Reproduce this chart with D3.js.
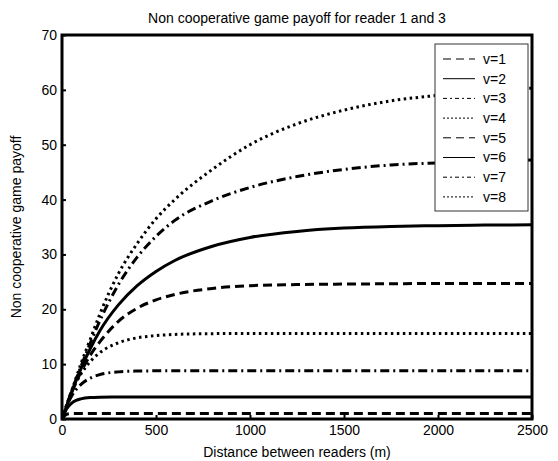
<!DOCTYPE html>
<html>
<head>
<meta charset="utf-8">
<script src="https://cdn.jsdelivr.net/npm/d3@7"></script>
<style>
body { margin: 0; background: #fff; }
text { font-family: "Liberation Sans", Arial, sans-serif; fill: #000; }
</style>
</head>
<body>
<svg id="chart" width="558" height="461"></svg>
<script>
// distances (m) where the curves were read
var distances = [0, 25, 50, 75, 100, 150, 200, 300, 400, 500, 600, 800, 1000, 1250, 1500, 1750, 2000, 2250, 2500];

var v1 = [0, 0.88, 0.98, 1, 1, 1, 1, 1, 1, 1, 1, 1, 1, 1, 1, 1, 1, 1, 1];
var v2 = [0, 1.86, 2.85, 3.39, 3.67, 3.91, 3.97, 4, 4, 4, 4, 4, 4, 4, 4, 4, 4, 4, 4];
var v3 = [0, 2.36, 4.09, 5.35, 6.27, 7.45, 8.08, 8.59, 8.74, 8.78, 8.8, 8.8, 8.8, 8.8, 8.8, 8.8, 8.8, 8.8, 8.8];
var v4 = [0, 2.64, 4.82, 6.65, 8.16, 10.47, 12.06, 13.9, 14.8, 15.2, 15.42, 15.56, 15.6, 15.6, 15.6, 15.6, 15.6, 15.6, 15.6];
var v5 = [0, 2.4, 4.7, 6.7, 8.5, 11.6, 14.0, 17.8, 20.2, 21.7, 22.7, 23.8, 24.3, 24.5, 24.6, 24.65, 24.7, 24.7, 24.7];
var v6 = [0, 2.4, 4.8, 7.0, 9.1, 12.8, 16.0, 20.8, 24.3, 26.9, 28.9, 31.5, 33.1, 34.2, 34.8, 35.1, 35.25, 35.35, 35.4];
var v7 = [0, 2.5, 5.0, 7.3, 9.5, 13.8, 17.8, 24.5, 29.5, 33.3, 36.2, 39.8, 42.2, 44.2, 45.5, 46.3, 46.7, 47.0, 47.2];
var v8 = [0, 2.5, 5.0, 7.5, 10.0, 14.5, 19.0, 26.5, 32.0, 36.5, 40.0, 45.5, 50.0, 53.8, 56.3, 58.0, 59.0, 59.8, 60.3];

var seriesNames = ["v=1", "v=2", "v=3", "v=4", "v=5", "v=6", "v=7", "v=8"];
var seriesValues = [v1, v2, v3, v4, v5, v6, v7, v8];

var xTicks = [0, 500, 1000, 1500, 2000, 2500];
var yTicks = [0, 10, 20, 30, 40, 50, 60, 70];

// matlab style line types: --, -, -., :
var dashStyles = ["9,5", null, "9,4,2,4", "2.5,3.5", "9,5", null, "9,4,2,4", "2.5,3.5"];
var legendDash = ["8,5", null, "4,3,2,3", "2,2", "8,5", null, "4,3,2,3", "2,2"];

var plotL = 62, plotR = 532, plotT = 35, plotB = 419;

var svg = d3.select("#chart");

var x = d3.scaleLinear().domain([0, 2500]).range([plotL, plotR]);
var y = d3.scaleLinear().domain([0, 70]).range([plotB, plotT]);

// curves
var line = d3.line()
    .x(function(d) { return x(d[0]); })
    .y(function(d) { return y(d[1]); })
    .curve(d3.curveMonotoneX);

svg.append("clipPath").attr("id", "plotclip")
  .append("rect")
    .attr("x", plotL).attr("y", plotT)
    .attr("width", plotR - plotL).attr("height", plotB - plotT);

svg.append("g")
    .attr("clip-path", "url(#plotclip)")
  .selectAll("path")
  .data(seriesValues)
  .enter()
  .append("path")
    .attr("fill", "none")
    .attr("stroke", "#000")
    .attr("stroke-width", 3)
    .attr("stroke-dasharray", function(d, i) { return dashStyles[i]; })
    .attr("d", function(d) {
      return line(distances.map(function(dist, j) { return [dist, d[j]]; }));
    });

// axes with inward ticks
var xAxis = d3.axisBottom(x).tickValues(xTicks).tickFormat(d3.format("d"))
    .tickSizeInner(-4).tickSizeOuter(0).tickPadding(6);
var yAxis = d3.axisLeft(y).tickValues(yTicks).tickFormat(d3.format("d"))
    .tickSizeInner(-4).tickSizeOuter(0).tickPadding(5);

var gx = svg.append("g").attr("transform", "translate(0," + plotB + ")").call(xAxis);
var gy = svg.append("g").attr("transform", "translate(" + plotL + ",0)").call(yAxis);
[gx, gy].forEach(function(g) {
  g.select(".domain").remove();
  g.selectAll(".tick line").attr("stroke", "#000").attr("stroke-width", 2);
  g.selectAll(".tick text").attr("font-size", 14).attr("font-family", "Liberation Sans, Arial, sans-serif");
});

// box
svg.append("rect")
    .attr("x", plotL).attr("y", plotT)
    .attr("width", plotR - plotL).attr("height", plotB - plotT)
    .attr("fill", "none")
    .attr("stroke", "#000")
    .attr("stroke-width", 3);

// legend
var lg = svg.append("g").attr("transform", "translate(435,44)");
lg.append("rect")
    .attr("width", 93).attr("height", 167)
    .attr("fill", "#fff").attr("stroke", "#333").attr("stroke-width", 1);

var items = lg.selectAll("g.item")
  .data(seriesNames)
  .enter()
  .append("g")
    .attr("transform", function(d, i) { return "translate(0," + (15 + i * 19.7) + ")"; });

items.append("line")
    .attr("x1", 8).attr("x2", 40)
    .attr("stroke", "#000").attr("stroke-width", 1)
    .attr("stroke-dasharray", function(d, i) { return legendDash[i]; });

items.append("text")
    .attr("x", 48).attr("dy", "0.35em")
    .attr("font-size", 14)
    .text(function(d) { return d; });

// titles
svg.append("text")
    .attr("x", (plotL + plotR) / 2).attr("y", 23)
    .attr("text-anchor", "middle").attr("font-size", 14)
    .text("Non cooperative game payoff for reader 1 and 3");

svg.append("text")
    .attr("x", (plotL + plotR) / 2).attr("y", 457)
    .attr("text-anchor", "middle").attr("font-size", 14)
    .text("Distance between readers (m)");

svg.append("text")
    .attr("transform", "translate(21," + ((plotT + plotB) / 2) + ") rotate(-90)")
    .attr("text-anchor", "middle").attr("font-size", 14)
    .text("Non cooperative game payoff");
</script>
</body>
</html>
